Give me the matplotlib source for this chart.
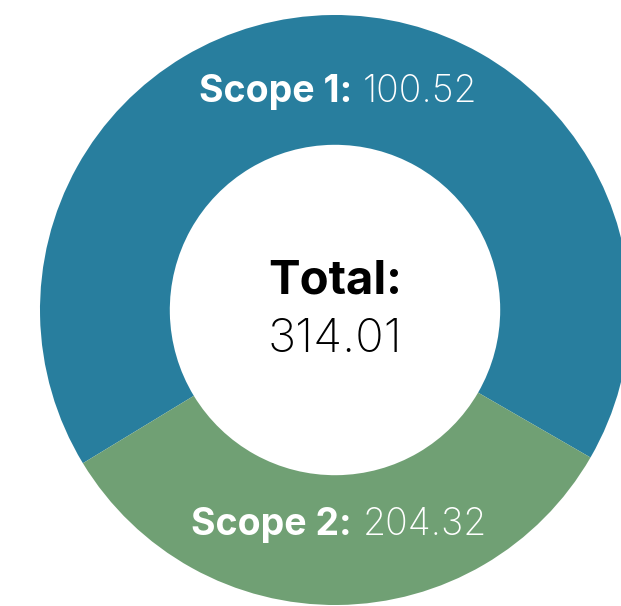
import matplotlib.pyplot as plt

# donut: scope 1 / scope 2 emissions
scopes = ["Scope 1:", "Scope 2:"]
scope_text = ["100.52", "204.32"]
slice_sizes = [204.32, 100.52]  # sizes as drawn in the picture
total_text = "314.01"
colors = ["#287e9e", "#70a074"]

plt.rcParams['font.family'] = ['Inter', 'DejaVu Sans']

fig = plt.figure(figsize=(6.21, 6.06), dpi=100)
ax = fig.add_axes([0, 0, 1, 1])

wedges, _ = ax.pie(slice_sizes, colors=colors, startangle=-30, counterclock=True,
                   radius=1, wedgeprops=dict(width=0.44, linewidth=0))

# place center at (335, 310) px with radius 295 px
s = 295.0
ax.set_xlim(-335 / s, (621 - 335) / s)
ax.set_ylim(-(606 - 310) / s, 310 / s)
ax.set_aspect('auto')
ax.axis('off')

label_y = [0.74, -0.73]
for name, val, y in zip(scopes, scope_text, label_y):
    ax.text(0.058, y, name, ha='right', va='center', color='white',
            fontsize=27, fontweight='bold')
    ax.text(0.095, y, val, ha='left', va='center', color='white',
            fontsize=27, fontweight='light')

ax.text(0, 0.097, "Total:", ha='center', va='center', fontsize=34, fontweight='bold', color='black')
ax.text(0, -0.1, total_text, ha='center', va='center', fontsize=34, fontweight='light', color='black')

fig.savefig("out.png", dpi=100)
